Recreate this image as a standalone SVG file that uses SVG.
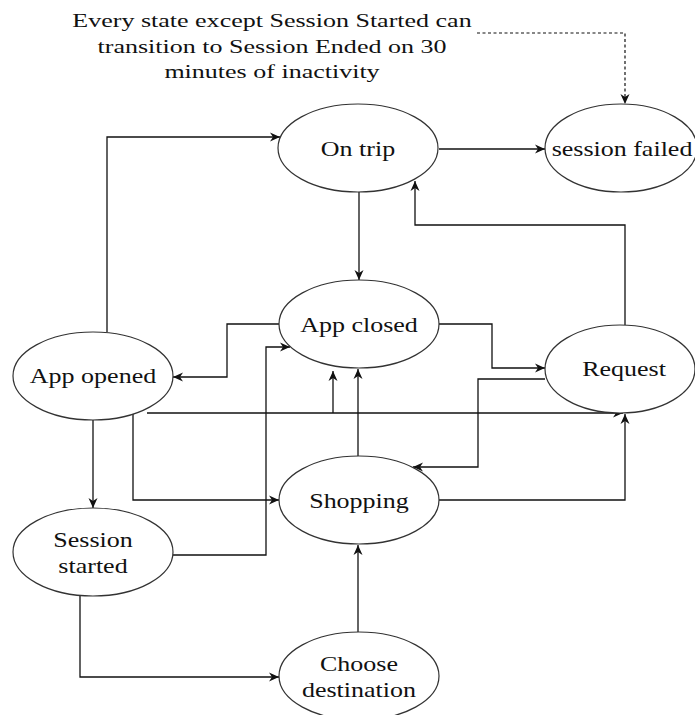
<svg xmlns="http://www.w3.org/2000/svg" width="695" height="715" viewBox="0 0 695 715">
<style>
.n{fill:#fff;stroke:#333;stroke-width:1.2}
.t{font-family:"Liberation Serif","Times New Roman",serif;font-size:20px;fill:#111;text-anchor:middle}
.h{font-family:"Liberation Serif","Times New Roman",serif;font-size:19px;fill:#111;text-anchor:middle}
.c{fill:none;stroke:#111;stroke-width:1.3}
.d{fill:none;stroke:#111;stroke-width:1.2;stroke-dasharray:3,2.5}
</style>
<defs>
<marker id="a" markerWidth="12" markerHeight="12" refX="10" refY="6" orient="auto" markerUnits="userSpaceOnUse">
<path d="M0,1.5 L10,6 L0,10.5 L3,6 z" fill="#111"/>
</marker>
</defs>
<rect width="695" height="715" fill="#fff"/>
<g id="note">
<text class="h" transform="translate(272,27) scale(1.37,1)">Every state except Session Started can</text>
<text class="h" transform="translate(272,53) scale(1.37,1)">transition to Session Ended on 30</text>
<text class="h" transform="translate(272,78) scale(1.37,1)">minutes of inactivity</text>
</g>
<g id="connectors">
<path class="d" d="M477,33 H625 V104" marker-end="url(#a)"/>
<path class="c" d="M107,332 V137 H280" marker-end="url(#a)"/>
<path class="c" d="M439,149 H545" marker-end="url(#a)"/>
<path class="c" d="M359,192 V280" marker-end="url(#a)"/>
<path class="c" d="M625,325 V225 H415 V181" marker-end="url(#a)"/>
<path class="c" d="M279,324 H227 V377 H173" marker-end="url(#a)"/>
<path class="c" d="M173,555 H266 V347 H290" marker-end="url(#a)"/>
<path class="c" d="M147,413 H623" marker-end="url(#a)"/>
<path class="c" d="M333,413 V371" marker-end="url(#a)"/>
<path class="c" d="M93,420 V508" marker-end="url(#a)"/>
<path class="c" d="M133,414 V500 H279" marker-end="url(#a)"/>
<path class="c" d="M358,457 V369" marker-end="url(#a)"/>
<path class="c" d="M545,379 H478 V467 H413" marker-end="url(#a)"/>
<path class="c" d="M439,324 H492 V368 H545" marker-end="url(#a)"/>
<path class="c" d="M439,500 H625 V414" marker-end="url(#a)"/>
<path class="c" d="M80,595 V677 H279" marker-end="url(#a)"/>
<path class="c" d="M358,632 V545" marker-end="url(#a)"/>
</g>
<g id="on-trip">
<ellipse class="n" cx="358" cy="148" rx="80" ry="44"/>
<text class="t" transform="translate(358,156) scale(1.3,1)">On trip</text>
</g>
<g id="session-failed">
<ellipse class="n" cx="621" cy="148" rx="76" ry="44"/>
<text class="t" transform="translate(622,156) scale(1.3,1)">session failed</text>
</g>
<g id="app-closed">
<ellipse class="n" cx="359" cy="324" rx="80" ry="44"/>
<text class="t" transform="translate(359,332) scale(1.3,1)">App closed</text>
</g>
<g id="app-opened">
<ellipse class="n" cx="93" cy="376" rx="80" ry="44"/>
<text class="t" transform="translate(93,383) scale(1.3,1)">App opened</text>
</g>
<g id="request">
<ellipse class="n" cx="620" cy="369" rx="75" ry="44"/>
<text class="t" transform="translate(624,376) scale(1.3,1)">Request</text>
</g>
<g id="shopping">
<ellipse class="n" cx="359" cy="500" rx="80" ry="44"/>
<text class="t" transform="translate(359,508) scale(1.3,1)">Shopping</text>
</g>
<g id="session-started">
<ellipse class="n" cx="93" cy="552" rx="80" ry="44"/>
<text class="t" transform="translate(93,547) scale(1.3,1)">Session</text>
<text class="t" transform="translate(93,573) scale(1.3,1)">started</text>
</g>
<g id="choose-destination">
<ellipse class="n" cx="359" cy="676" rx="80" ry="44"/>
<text class="t" transform="translate(359,671) scale(1.3,1)">Choose</text>
<text class="t" transform="translate(359,697) scale(1.3,1)">destination</text>
</g>
</svg>
